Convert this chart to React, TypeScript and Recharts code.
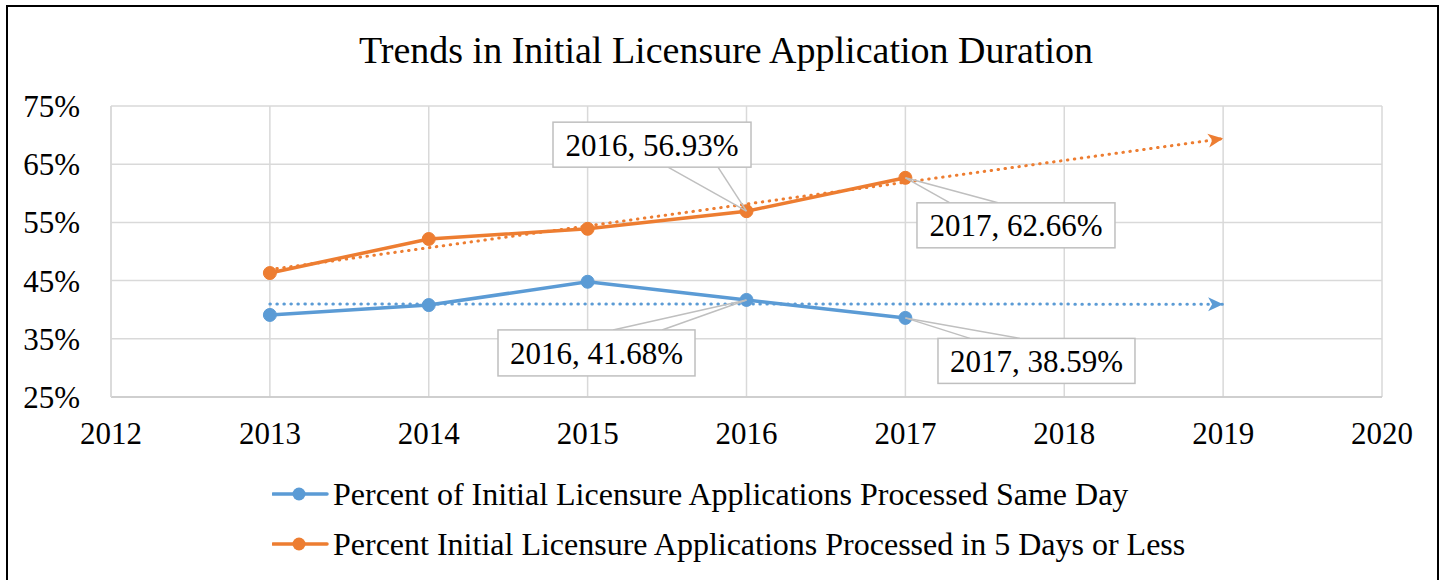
import React from 'react';
import { LineChart, Line, XAxis, YAxis, CartesianGrid, LabelList } from 'recharts';

const chartTitle = 'Trends in Initial Licensure Application Duration';
const years = [2013, 2014, 2015, 2016, 2017];
const sameDay = [39.1, 40.8, 44.8, 41.68, 38.59];
const fiveDays = [46.3, 52.15, 53.9, 56.93, 62.66];
const trendYears = [2013, 2019];
const sameDayTrend = [41.0, 40.95];
const fiveDaysTrend = [46.9, 69.4];
const xTicks = [2012, 2013, 2014, 2015, 2016, 2017, 2018, 2019, 2020];
const yTicks = [25, 35, 45, 55, 65, 75];
const seriesNames = [
  'Percent of Initial Licensure Applications Processed Same Day',
  'Percent Initial Licensure Applications Processed in 5 Days or Less',
];
const seriesColors = ['#5B9BD5', '#ED7D31'];
const labeledYears = [2016, 2017];

const FONT = '"Liberation Serif", "Times New Roman", serif';

const sameDayData = years.map((year, i) => ({ year, value: sameDay[i] }));
const fiveDaysData = years.map((year, i) => ({ year, value: fiveDays[i] }));
const sameDayTrendData = trendYears.map((year, i) => ({ year, value: sameDayTrend[i] }));
const fiveDaysTrendData = trendYears.map((year, i) => ({ year, value: fiveDaysTrend[i] }));

// callout geometry relative to the data point (layout only)
const callouts: Record<string, { bx: number; by: number; w: number; h: number; l1: [number, number]; l2: [number, number] }> = {
  's1-2016': { bx: -193.5, by: -89, w: 198, h: 45, l1: [-78.5, -44], l2: [-28.5, -44] },
  's1-2017': { bx: 11.6, by: 25, w: 198, h: 45, l1: [44.6, 25], l2: [92.6, 25] },
  's0-2016': { bx: -248.5, by: 30, w: 197, h: 46, l1: [-133.5, 30], l2: [-84.5, 30] },
  's0-2017': { bx: 32.6, by: 20.5, w: 197, h: 45, l1: [64.6, 20.5], l2: [114.6, 20.5] },
};

const makeLabel = (seriesIdx: number) => (props: any) => {
  const { x, y, index, value } = props;
  const year = years[index];
  if (!labeledYears.includes(year)) return null;
  const c = callouts[`s${seriesIdx}-${year}`];
  if (!c) return null;
  const text = `${year}, ${Number(value).toFixed(2)}%`;
  return (
    <g key={`lbl-${seriesIdx}-${index}`}>
      <line x1={x + c.l1[0]} y1={y + c.l1[1]} x2={x} y2={y} stroke="#bfbfbf" strokeWidth={1.5} />
      <line x1={x + c.l2[0]} y1={y + c.l2[1]} x2={x} y2={y} stroke="#bfbfbf" strokeWidth={1.5} />
      <rect x={x + c.bx} y={y + c.by} width={c.w} height={c.h} fill="#ffffff" stroke="#bfbfbf" strokeWidth={1.5} />
      <text
        x={x + c.bx + c.w / 2}
        y={y + c.by + c.h / 2}
        dy="0.35em"
        textAnchor="middle"
        fontFamily={FONT}
        fontSize={31}
        fill="#000000"
      >
        {text}
      </text>
    </g>
  );
};

export default function App() {
  return (
    <div style={{ position: 'absolute', left: 0, top: 0, width: 1447, height: 580, background: '#fff', fontFamily: FONT }}>
      <div
        style={{
          position: 'absolute',
          left: 6,
          top: 5,
          width: 1433,
          height: 600,
          border: '2px solid #000',
          boxSizing: 'border-box',
        }}
      />
      <LineChart width={1447} height={580} margin={{ top: 106, right: 65, bottom: 143, left: 11 }}>
        <defs>
          <marker id="arrowBlue" markerUnits="userSpaceOnUse" markerWidth={16} markerHeight={16} refX={15} refY={8} orient="auto" viewBox="0 0 16 16">
            <path d="M0,1 L15,8 L0,15 L4,8 Z" fill={seriesColors[0]} />
          </marker>
          <marker id="arrowOrange" markerUnits="userSpaceOnUse" markerWidth={16} markerHeight={16} refX={15} refY={8} orient="auto" viewBox="0 0 16 16">
            <path d="M0,1 L15,8 L0,15 L4,8 Z" fill={seriesColors[1]} />
          </marker>
        </defs>
        <text x={726} y={63} textAnchor="middle" fontFamily={FONT} fontSize={38} fill="#000">
          {chartTitle}
        </text>
        <CartesianGrid stroke="#d9d9d9" strokeWidth={1.5} horizontal vertical />
        <XAxis
          dataKey="year"
          type="number"
          domain={[2012, 2020]}
          ticks={xTicks}
          allowDataOverflow
          height={40}
          tickLine={false}
          tickSize={0}
          tickMargin={25}
          axisLine={{ stroke: '#c8c8c8', strokeWidth: 1.5 }}
          tick={{ fontFamily: FONT, fontSize: 31, fill: '#000' }}
        />
        <YAxis
          type="number"
          domain={[25, 75]}
          ticks={yTicks}
          width={100}
          tickLine={false}
          tickSize={0}
          tickMargin={31}
          axisLine={{ stroke: '#d9d9d9', strokeWidth: 1.5 }}
          tickFormatter={(v: number) => `${v}%`}
          tick={{ fontFamily: FONT, fontSize: 31, fill: '#000' }}
        />
        <Line
          data={sameDayTrendData}
          dataKey="value"
          type="linear"
          stroke={seriesColors[0]}
          strokeWidth={3}
          strokeDasharray="0.5 6.5"
          strokeLinecap="round"
          dot={false}
          activeDot={false}
          markerEnd="url(#arrowBlue)"
          isAnimationActive={false}
        />
        <Line
          data={fiveDaysTrendData}
          dataKey="value"
          type="linear"
          stroke={seriesColors[1]}
          strokeWidth={3}
          strokeDasharray="0.5 6.5"
          strokeLinecap="round"
          dot={false}
          activeDot={false}
          markerEnd="url(#arrowOrange)"
          isAnimationActive={false}
        />
        <Line
          data={sameDayData}
          dataKey="value"
          name={seriesNames[0]}
          type="linear"
          stroke={seriesColors[0]}
          strokeWidth={3.5}
          dot={{ r: 6.5, fill: seriesColors[0], stroke: seriesColors[0], strokeWidth: 1 }}
          activeDot={false}
          isAnimationActive={false}
        >
          <LabelList dataKey="value" content={makeLabel(0)} />
        </Line>
        <Line
          data={fiveDaysData}
          dataKey="value"
          name={seriesNames[1]}
          type="linear"
          stroke={seriesColors[1]}
          strokeWidth={3.5}
          dot={{ r: 6.5, fill: seriesColors[1], stroke: seriesColors[1], strokeWidth: 1 }}
          activeDot={false}
          isAnimationActive={false}
        >
          <LabelList dataKey="value" content={makeLabel(1)} />
        </Line>
      </LineChart>
      {seriesNames.map((name, i) => (
        <div
          key={name}
          style={{
            position: 'absolute',
            left: 272,
            top: (i === 0 ? 494 : 544) - 20,
            height: 40,
            display: 'flex',
            alignItems: 'center',
            whiteSpace: 'nowrap',
          }}
        >
          <svg width={61} height={40} style={{ display: 'block' }}>
            <line x1={1} y1={20} x2={55} y2={20} stroke={seriesColors[i]} strokeWidth={3.5} strokeLinecap="round" />
            <circle cx={27} cy={20} r={6.5} fill={seriesColors[i]} />
          </svg>
          <span style={{ fontFamily: FONT, fontSize: 32, lineHeight: '40px', color: '#000' }}>{name}</span>
        </div>
      ))}
    </div>
  );
}
